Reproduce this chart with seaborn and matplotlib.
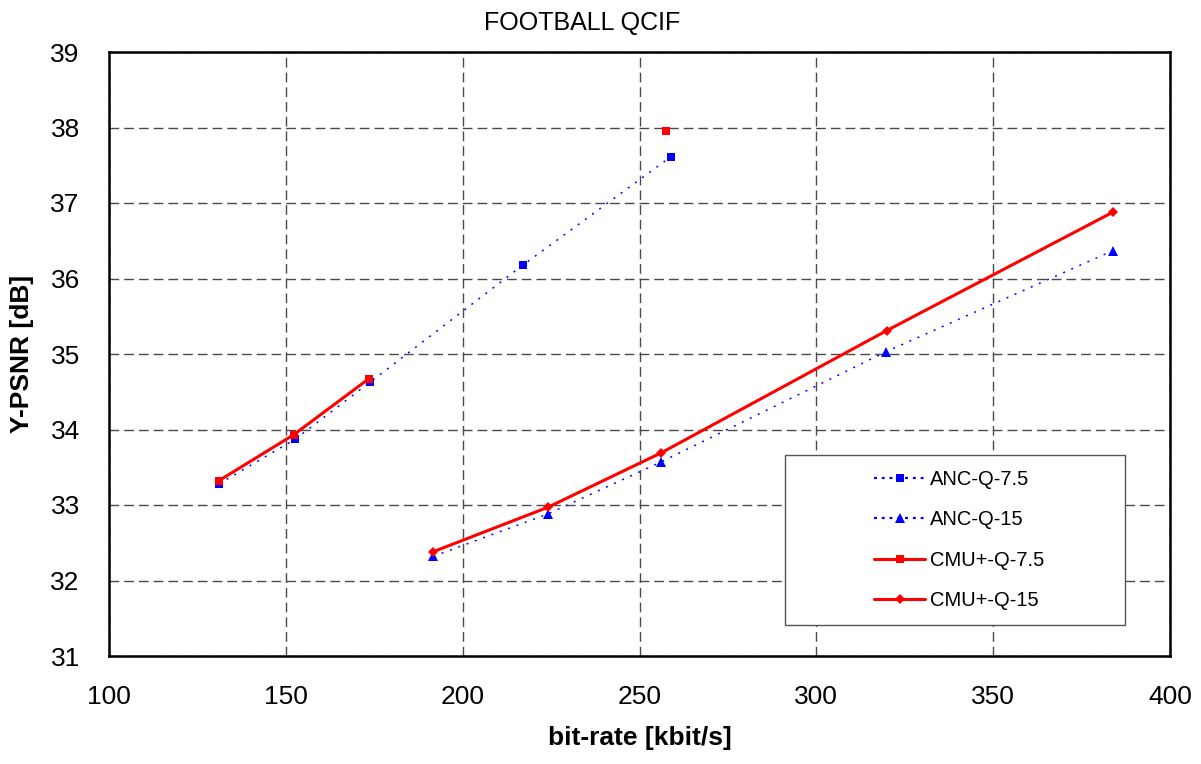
import numpy as np
import pandas as pd
import matplotlib
matplotlib.use("Agg")
import matplotlib.pyplot as plt
from matplotlib.patches import Rectangle
import seaborn as sns

# Rate-distortion points (bit-rate in kbit/s, Y-PSNR in dB)
anc_q75_rate = [131.1, 152.6, 173.9, 217.1, 258.8]
anc_q75_psnr = [33.28, 33.87, 34.63, 36.18, 37.61]

anc_q15_rate = [191.7, 224.0, 256.1, 319.7, 383.9]
anc_q15_psnr = [32.32, 32.88, 33.57, 35.03, 36.37]

# CMU+-Q-7.5 has no measurement at the fourth operating point,
# so its last point stands on its own (separate segment id)
cmu_q75_rate = [131.0, 152.2, 173.4, 257.4]
cmu_q75_psnr = [33.32, 33.93, 34.67, 37.95]
cmu_q75_segment = [0, 0, 0, 1]

cmu_q15_rate = [191.6, 224.1, 256.1, 319.9, 383.9]
cmu_q15_psnr = [32.38, 32.97, 33.69, 35.31, 36.88]

series_labels = ["ANC-Q-7.5", "ANC-Q-15", "CMU+-Q-7.5", "CMU+-Q-15"]
x_ticks = [100, 150, 200, 250, 300, 350, 400]
y_ticks = [31, 32, 33, 34, 35, 36, 37, 38, 39]

sns.set_style("white")
plt.rcParams["font.family"] = ["Liberation Sans", "DejaVu Sans"]
plt.rcParams["text.color"] = "black"
plt.rcParams["axes.labelcolor"] = "black"
plt.rcParams["xtick.color"] = "black"
plt.rcParams["ytick.color"] = "black"

fig = plt.figure(figsize=(12.01, 7.64), dpi=100)
ax = fig.add_axes([109 / 1201, 1 - 656 / 764, (1170 - 109) / 1201, (656 - 52) / 764])

blue = "#0000FF"
red = "#FF0000"
dotted = (0, (1.3, 4.5))

df_a75 = pd.DataFrame({"rate": anc_q75_rate, "psnr": anc_q75_psnr})
df_a15 = pd.DataFrame({"rate": anc_q15_rate, "psnr": anc_q15_psnr})
df_c75 = pd.DataFrame({"rate": cmu_q75_rate, "psnr": cmu_q75_psnr, "seg": cmu_q75_segment})
df_c15 = pd.DataFrame({"rate": cmu_q15_rate, "psnr": cmu_q15_psnr})

sns.lineplot(data=df_a75, x="rate", y="psnr", ax=ax, estimator=None, sort=False,
             color=blue, lw=1.1, linestyle=dotted, marker="s", markersize=5.5,
             markeredgewidth=0, zorder=3)
sns.lineplot(data=df_a15, x="rate", y="psnr", ax=ax, estimator=None, sort=False,
             color=blue, lw=1.1, linestyle=dotted, marker="^", markersize=7,
             markeredgewidth=0, zorder=3)
sns.lineplot(data=df_c75, x="rate", y="psnr", units="seg", ax=ax, estimator=None,
             sort=False, color=red, lw=2.2, marker="s", markersize=6,
             markeredgewidth=0, zorder=4)
sns.lineplot(data=df_c15, x="rate", y="psnr", ax=ax, estimator=None, sort=False,
             color=red, lw=2.2, marker="D", markersize=5.5,
             markeredgewidth=0, zorder=4)

ax.set_xlim(100, 400)
ax.set_ylim(31, 39)
ax.set_xticks(x_ticks)
ax.set_yticks(y_ticks)
ax.tick_params(axis="both", direction="in", length=7, width=1.2,
               labelsize=19, pad=21, colors="black")

ax.grid(True, color="#4a4a4a", linestyle=(0, (7, 3.6)), linewidth=1.0)
ax.set_axisbelow(True)
for sp in ax.spines.values():
    sp.set_visible(True)
    sp.set_color("black")
    sp.set_linewidth(1.8)

ax.set_title("FOOTBALL QCIF", fontsize=18, pad=16, color="black", x=0.446)
ax.set_xlabel("bit-rate [kbit/s]", fontsize=19, fontweight="bold", labelpad=12)
ax.set_ylabel("Y-PSNR [dB]", fontsize=19, fontweight="bold", labelpad=12)

# Legend box drawn as its own frame, entries centred inside it
box_x0 = (785 - 109) / 1061
box_x1 = (1125 - 109) / 1061
box_y0 = (656 - 625) / 604
box_y1 = (656 - 455) / 604
ax.add_patch(Rectangle((box_x0, box_y0), box_x1 - box_x0, box_y1 - box_y0,
                       transform=ax.transAxes, facecolor="white",
                       edgecolor="#555555", linewidth=1.0, zorder=5))

handles = [
    plt.Line2D([], [], color=blue, lw=1.6, linestyle=(0, (1.3, 2.2)), marker="s",
               markersize=5.5, markeredgewidth=0),
    plt.Line2D([], [], color=blue, lw=1.6, linestyle=(0, (1.3, 2.2)), marker="^",
               markersize=6.5, markeredgewidth=0),
    plt.Line2D([], [], color=red, lw=2.2, marker="s", markersize=5.5, markeredgewidth=0),
    plt.Line2D([], [], color=red, lw=2.2, marker="D", markersize=5, markeredgewidth=0),
]
leg = ax.legend(handles, series_labels, loc="center",
                bbox_to_anchor=((box_x0 + box_x1) / 2 + 0.004, (box_y0 + box_y1) / 2),
                frameon=False, fontsize=14.5, handlelength=2.5, handletextpad=0.25,
                labelspacing=1.07, borderpad=0.3)
leg.set_zorder(6)

fig.savefig("out.png", dpi=100, facecolor="white")
